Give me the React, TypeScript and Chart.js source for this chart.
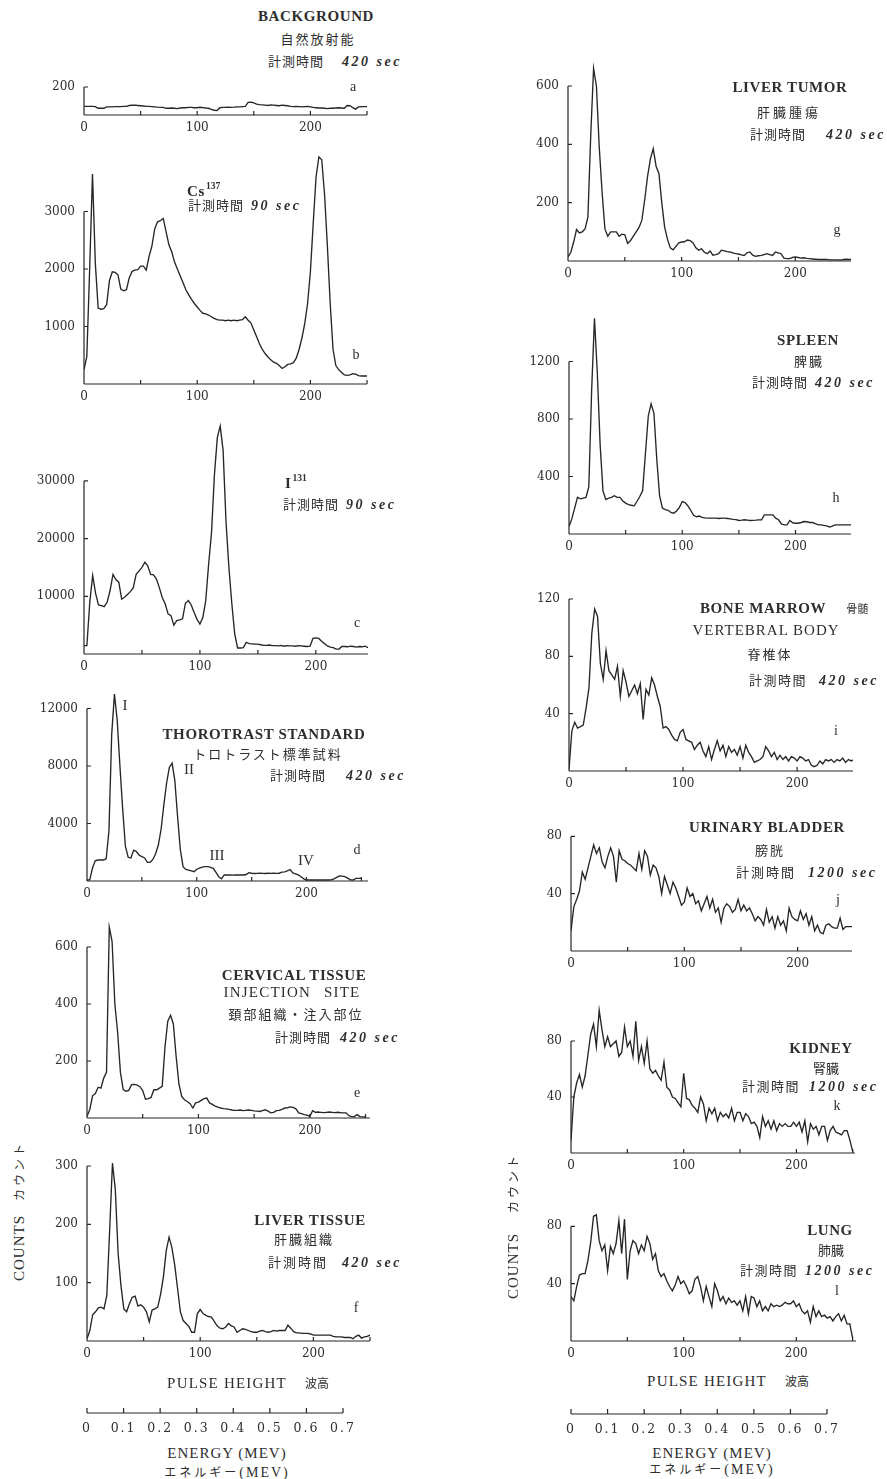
import React, { useEffect, useRef } from 'react';
import { Chart, registerables } from 'chart.js';

Chart.register(...registerables);

// ---------- data ----------
const CHANNELS = [
  0, 2.5, 5, 7.5, 10, 12.5, 15, 17.5, 20, 22.5,
  25, 27.5, 30, 32.5, 35, 37.5, 40, 42.5, 45, 47.5,
  50, 52.5, 55, 57.5, 60, 62.5, 65, 67.5, 70, 72.5,
  75, 77.5, 80, 82.5, 85, 87.5, 90, 92.5, 95, 97.5,
  100, 102.5, 105, 107.5, 110, 112.5, 115, 117.5, 120, 122.5,
  125, 127.5, 130, 132.5, 135, 137.5, 140, 142.5, 145, 147.5,
  150, 152.5, 155, 157.5, 160, 162.5, 165, 167.5, 170, 172.5,
  175, 177.5, 180, 182.5, 185, 187.5, 190, 192.5, 195, 197.5,
  200, 202.5, 205, 207.5, 210, 212.5, 215, 217.5, 220, 222.5,
  225, 227.5, 230, 232.5, 235, 237.5, 240, 242.5, 245, 247.5,
  250,
];

const BACKGROUND_A = [
  62, 62, 62, 62, 60, 48, 48, 48, 58, 58,
  58, 60, 60, 60, 62, 62, 68, 70, 70, 68,
  66, 64, 62, 62, 60, 58, 56, 55, 55, 48,
  48, 50, 48, 46, 50, 52, 52, 55, 55, 52,
  52, 55, 53, 50, 48, 40, 34, 32, 52, 54,
  55, 56, 55, 56, 58, 58, 60, 62, 90, 92,
  86, 78, 74, 72, 70, 68, 72, 70, 68, 66,
  70, 68, 66, 62, 60, 62, 60, 58, 60, 62,
  58, 54, 52, 50, 50, 48, 46, 48, 48, 50,
  52, 50, 48, 68, 66, 52, 42, 58, 60, 60,
  60,
];

const CS137_B = [
  250, 480, 2000, 3650, 2100, 1320, 1300, 1310, 1380, 1800,
  1950, 1940, 1900, 1650, 1620, 1640, 1850, 1960, 1980, 1990,
  2050, 2050, 1980, 2220, 2400, 2700, 2820, 2840, 2880, 2650,
  2420, 2300, 2120, 2000, 1880, 1760, 1640, 1550, 1470, 1400,
  1340, 1280, 1230, 1220, 1200, 1170, 1140, 1120, 1110, 1110,
  1100, 1110, 1100, 1110, 1100, 1110, 1120, 1170, 1110, 1060,
  940, 820, 700, 600, 530, 470, 420, 380, 360, 320,
  270, 300, 340, 350, 370, 450, 600, 800, 1050, 1400,
  1950, 2800, 3600, 3950, 3900, 3300, 2400, 1400, 600, 320,
  250, 200, 160, 150, 160, 180, 170, 145, 140, 140,
  140,
];

const I131_C = [
  1450, 1450, 9000, 13600, 10500, 8500, 8400, 8200, 9000, 11000,
  13800, 12900, 12450, 9500, 9840, 10300, 10800, 11500, 13800, 14400,
  15000, 15900, 15300, 13800, 13700, 13000, 11500, 9800, 8700, 6950,
  6650, 5000, 5800, 5900, 6100, 8800, 9260, 8500, 7200, 6000,
  5200, 6300, 9200, 15500, 21000, 31000, 37500, 39500, 35300, 23000,
  15000, 8800, 3500, 1040, 1040, 1100, 2000, 1800, 1750, 1700,
  1700, 1600, 1500, 1500, 1550, 1450, 1450, 1400, 1500, 1350,
  1450, 1400, 1400, 1350, 1450, 1400, 1350, 1300, 1350, 2700,
  2800, 2700, 2200, 1800, 1400, 1200, 1100, 850, 850, 1300,
  1300, 1250, 1350, 1300, 1200, 1300, 1250, 1350, 1100, 1200,
  1200,
];

const THOROTRAST_D = [
  70, 80, 900, 1400, 1460, 1460, 1460, 1550, 3500, 10200,
  13000, 11200, 8000, 5000, 2400, 1650, 1600, 2150, 2050, 1800,
  1700, 1600, 1300, 1300, 1500, 1900, 2500, 3600, 5300, 6800,
  7900, 8200, 7000, 4500, 2200, 1000, 800, 760, 700, 650,
  820, 900, 960, 1000, 1000, 950, 880, 600, 300, 150,
  420, 420, 420, 410, 420, 430, 420, 420, 450, 580,
  540, 520, 530, 540, 530, 520, 540, 530, 540, 530,
  540, 620, 640, 700, 800, 560, 500, 420, 300, 150,
  70, 70, 70, 70, 70, 70, 70, 70, 70, 80,
  150, 250, 350, 340, 300, 200, 80, 70, 180, 185,
  185,
];

const CERVICAL_E = [
  6, 30, 78, 86, 108, 105, 140, 160, 670, 620,
  400, 300, 160, 100, 94, 97, 117, 118, 115, 110,
  96, 66, 68, 72, 99, 99, 105, 111, 250, 340,
  360, 330, 216, 120, 76, 64, 58, 50, 35, 53,
  56, 62, 68, 70, 53, 48, 42, 38, 35, 33,
  32, 30, 28, 27, 27, 28, 26, 27, 28, 27,
  25, 24, 23, 26, 29, 24, 18, 20, 26, 27,
  30, 35, 36, 39, 37, 32, 18, 15, 12, 10,
  6, 26, 20, 21, 20, 19, 20, 21, 20, 19,
  20, 19, 18, 18, 8, 5, 5, 12, 5, 4,
  4,
];

const LIVER_TISSUE_F = [
  4, 18, 45, 50, 57, 58, 55, 78, 190, 305,
  260, 150, 95, 55, 50, 64, 75, 77, 60, 62,
  58, 50, 33, 53, 55, 58, 80, 110, 155, 178,
  160, 130, 90, 50, 35, 30, 25, 15, 15, 47,
  54, 47, 44, 42, 41, 33, 26, 22, 21, 24,
  30, 26, 24, 15, 18, 21, 20, 18, 16, 15,
  15, 17, 18, 16, 15, 16, 18, 17, 18, 18,
  18, 27, 22, 16, 14, 14, 13, 13, 13, 12,
  10, 10, 10, 10, 10, 10, 10, 8, 7, 7,
  7, 6, 6, 6, 4, 8, 10, 5, 7, 8,
  10,
];

const LIVER_TUMOR_G = [
  14, 30, 65, 108, 96, 100, 110, 150, 430, 660,
  600, 390, 235, 110, 85, 100, 100, 100, 85, 92,
  90, 60, 70, 85, 100, 115, 140, 210, 290, 350,
  385, 325, 300, 200, 117, 75, 45, 38, 50, 62,
  65, 66, 72, 70, 62, 45, 37, 42, 30, 25,
  34, 20, 22, 25, 37, 35, 32, 31, 28, 25,
  24, 21, 19, 28, 31, 20, 16, 18, 19, 22,
  25, 22, 19, 31, 28, 25, 10, 8, 8, 12,
  14, 12, 10, 11, 9, 8, 7, 6, 5, 5,
  5, 5, 4, 4, 4, 4, 3, 5, 6, 5,
  6,
];

const SPLEEN_H = [
  52, 105, 180, 255, 245, 250, 255, 330, 1000, 1500,
  1120, 620, 300, 240, 250, 255, 266, 255, 255, 230,
  215, 205, 200, 196, 226, 261, 300, 560, 820, 905,
  840, 520, 265, 180, 170, 165, 150, 145, 160, 185,
  226, 218, 195, 165, 130, 120, 125, 115, 112, 110,
  110, 110, 110, 108, 110, 110, 108, 105, 102, 100,
  94, 96, 99, 97, 94, 95, 96, 98, 99, 133,
  133, 133, 133, 110, 99, 70, 64, 64, 94, 78,
  75, 75, 80, 87, 85, 80, 80, 72, 64, 64,
  60, 57, 48, 55, 64, 64, 64, 64, 64, 64,
  64,
];

const BONE_MARROW_I = [
  1, 28, 34, 30, 31, 32, 44, 58, 96, 113,
  108, 75, 64, 84, 70, 67, 64, 73, 52, 70,
  62, 52, 56, 60, 54, 61, 36, 57, 53, 65,
  60, 52, 45, 30, 31, 29, 25, 22, 21, 27,
  29, 22, 21, 20, 15, 18, 20, 14, 10, 17,
  8, 15, 21, 14, 18, 10, 17, 13, 15, 11,
  17, 9, 18, 13, 10, 6, 7, 8, 10, 17,
  14, 10, 13, 8, 11, 8, 10, 7, 10, 9,
  7, 10, 9, 7, 8, 4, 3, 4, 7, 5,
  8, 7, 8, 6, 8, 7, 9, 6, 8, 7,
  8,
];

const BLADDER_J = [
  14, 31, 36, 42, 55, 50, 58, 66, 74, 68,
  72, 62, 58, 66, 72, 66, 48, 70, 64, 63,
  61, 60, 58, 56, 68, 57, 70, 66, 53, 60,
  58, 52, 40, 52, 46, 40, 48, 44, 38, 32,
  34, 44, 38, 40, 33, 35, 28, 33, 38, 30,
  36, 27, 30, 20, 30, 33, 31, 27, 29, 36,
  28, 32, 28, 30, 26, 21, 24, 22, 18, 29,
  20, 24, 16, 24, 18, 21, 14, 30, 24, 22,
  21, 28, 22, 26, 18, 24, 14, 18, 13, 12,
  18, 19, 17, 16, 16, 23, 15, 17, 17, 17,
  17,
];

const KIDNEY_K = [
  9, 40, 50, 56, 47, 55, 70, 85, 92, 76,
  102, 88, 76, 83, 76, 78, 80, 69, 72, 90,
  76, 80, 69, 94, 66, 76, 64, 80, 60, 57,
  59, 55, 52, 65, 47, 45, 40, 39, 36, 33,
  57, 39, 38, 34, 32, 29, 40, 35, 23, 32,
  28, 32, 23, 29, 26, 28, 25, 32, 23, 29,
  29, 23, 28, 26, 21, 22, 19, 11, 26, 19,
  23, 17, 23, 16, 21, 19, 21, 19, 19, 22,
  19, 22, 15, 23, 8, 21, 17, 19, 13, 19,
  19, 9, 16, 19, 15, 14, 13, 16, 16, 9,
  1,
];

const LUNG_L = [
  31, 28, 38, 46, 47, 47, 56, 69, 87, 88,
  70, 63, 67, 49, 66, 61, 68, 84, 61, 85,
  43, 63, 70, 68, 61, 67, 63, 73, 68, 57,
  61, 49, 45, 47, 42, 38, 35, 39, 45, 40,
  42, 38, 33, 35, 43, 45, 38, 28, 38, 31,
  24, 40, 35, 28, 31, 26, 30, 27, 28, 25,
  28, 21, 31, 19, 31, 30, 24, 28, 21, 24,
  21, 26, 24, 25, 24, 25, 27, 26, 26, 28,
  24, 26, 21, 19, 21, 13, 24, 17, 21, 17,
  18, 16, 17, 14, 17, 19, 14, 18, 12, 12,
  2,
];

const TICKS_A = [200];
const TICKS_B = [1000, 2000, 3000];
const TICKS_C = [10000, 20000, 30000];
const TICKS_D = [4000, 8000, 12000];
const TICKS_E = [200, 400, 600];
const TICKS_F = [100, 200, 300];
const TICKS_G = [200, 400, 600];
const TICKS_H = [400, 800, 1200];
const TICKS_I = [40, 80, 120];
const TICKS_J = [40, 80];
const TICKS_K = [40, 80];
const TICKS_L = [40, 80];

const PULSE_LABEL_TICKS = [0, 100, 200];
const PULSE_MINOR_TICKS = [50, 100, 150, 200, 250];
const ENERGY_TICKS = [0, 0.1, 0.2, 0.3, 0.4, 0.5, 0.6, 0.7];

// ---------- layout / style ----------
const INK = '#262626';
const TXT = '#2e2e2e';
const SERIF = '"Liberation Serif", "Times New Roman", serif';
const NUMFONT = '"DejaVu Serif", "Liberation Serif", serif';
const JP = '"Noto Sans CJK JP", "Noto Sans CJK SC", sans-serif';
const YAXIS_W = 56;
const XAXIS_H = 24;
const RIGHT_PAD = 4;
const TOP_PAD = 10;

type PanelSpec = {
  key: string; values: number[]; yTicks: number[];
  xL: number; xR: number; xMax: number; yBase: number; ppu: number; top: number;
};

const PANELS: PanelSpec[] = [
  { key: 'a', values: BACKGROUND_A, yTicks: TICKS_A, xL: 84, xR: 367, xMax: 250, yBase: 115, ppu: 0.14, top: 86 },
  { key: 'b', values: CS137_B, yTicks: TICKS_B, xL: 84, xR: 367, xMax: 250, yBase: 384, ppu: 0.0575, top: 148 },
  { key: 'c', values: I131_C, yTicks: TICKS_C, xL: 84, xR: 368, xMax: 245, yBase: 654, ppu: 0.00577, top: 417 },
  { key: 'd', values: THOROTRAST_D, yTicks: TICKS_D, xL: 87, xR: 368, xMax: 256, yBase: 881, ppu: 0.014375, top: 687 },
  { key: 'e', values: CERVICAL_E, yTicks: TICKS_E, xL: 87, xR: 370, xMax: 254, yBase: 1118, ppu: 0.285, top: 918 },
  { key: 'f', values: LIVER_TISSUE_F, yTicks: TICKS_F, xL: 87, xR: 370, xMax: 250, yBase: 1341, ppu: 0.5833, top: 1154 },
  { key: 'g', values: LIVER_TUMOR_G, yTicks: TICKS_G, xL: 568, xR: 851, xMax: 249, yBase: 261, ppu: 0.2917, top: 56 },
  { key: 'h', values: SPLEEN_H, yTicks: TICKS_H, xL: 569, xR: 851, xMax: 249, yBase: 534, ppu: 0.14375, top: 311 },
  { key: 'i', values: BONE_MARROW_I, yTicks: TICKS_I, xL: 569, xR: 853, xMax: 249, yBase: 771, ppu: 1.4333, top: 596 },
  { key: 'j', values: BLADDER_J, yTicks: TICKS_J, xL: 571, xR: 852, xMax: 248, yBase: 951, ppu: 1.4333, top: 833 },
  { key: 'k', values: KIDNEY_K, yTicks: TICKS_K, xL: 571, xR: 855, xMax: 252, yBase: 1153, ppu: 1.4, top: 1005 },
  { key: 'l', values: LUNG_L, yTicks: TICKS_L, xL: 571, xR: 856, xMax: 253, yBase: 1341, ppu: 1.4333, top: 1208 },
];

function makeAxesPlugin(yTicks: number[]) {
  return {
    id: 'paperAxes',
    afterDatasetsDraw(chart: any) {
      const { ctx } = chart;
      const x = chart.scales.x;
      const y = chart.scales.y;
      const x0 = x.getPixelForValue(0);
      const x1 = x.getPixelForValue(x.max);
      const y0 = y.getPixelForValue(0);
      const yTop = y.getPixelForValue(yTicks[yTicks.length - 1]);
      ctx.save();
      ctx.strokeStyle = INK;
      ctx.lineWidth = 1.2;
      ctx.beginPath();
      ctx.moveTo(x0, y0);
      ctx.lineTo(x1, y0);
      ctx.moveTo(x0, y0);
      ctx.lineTo(x0, yTop);
      for (const v of PULSE_MINOR_TICKS) {
        if (v <= x.max + 0.01) {
          const px = x.getPixelForValue(v);
          ctx.moveTo(px, y0);
          ctx.lineTo(px, y0 - 4);
        }
      }
      for (const v of yTicks) {
        const py = y.getPixelForValue(v);
        ctx.moveTo(x0, py);
        ctx.lineTo(x0 + 4, py);
      }
      ctx.stroke();
      ctx.restore();
    },
  };
}

function Spectrum({ p }: { p: PanelSpec }) {
  const ref = useRef<HTMLCanvasElement>(null);
  const left = p.xL - YAXIS_W;
  const width = YAXIS_W + (p.xR - p.xL) + RIGHT_PAD;
  const plotH = p.yBase - p.top;
  const height = TOP_PAD + plotH + XAXIS_H;
  useEffect(() => {
    const yMax = plotH / p.ppu;
    const chart = new Chart(ref.current as HTMLCanvasElement, {
      type: 'line',
      data: {
        datasets: [{
          data: CHANNELS.map((c, i) => ({ x: c, y: p.values[i] })),
          borderColor: INK,
          borderWidth: 1.35,
          pointRadius: 0,
          tension: 0,
          fill: false,
        }],
      },
      options: {
        animation: false,
        responsive: false,
        maintainAspectRatio: false,
        events: [],
        layout: { padding: { left: 0, right: RIGHT_PAD, top: TOP_PAD, bottom: 0 } },
        plugins: { legend: { display: false }, tooltip: { enabled: false }, title: { display: false } },
        scales: {
          x: {
            type: 'linear', min: 0, max: p.xMax,
            grid: { display: false, drawTicks: false },
            border: { display: false },
            ticks: {
              font: { family: NUMFONT, size: 12 }, color: TXT, padding: 6,
              maxRotation: 0, autoSkip: false,
              callback: (v: any) => String(v),
            },
            afterBuildTicks: (ax: any) => { ax.ticks = PULSE_LABEL_TICKS.map((v) => ({ value: v })); },
            afterFit: (ax: any) => { ax.height = XAXIS_H; ax.paddingLeft = 0; ax.paddingRight = 0; },
          },
          y: {
            type: 'linear', min: 0, max: yMax,
            grid: { display: false, drawTicks: false },
            border: { display: false },
            ticks: {
              font: { family: NUMFONT, size: 12 }, color: TXT, padding: 9, autoSkip: false,
              callback: (v: any) => String(v),
            },
            afterBuildTicks: (ax: any) => { ax.ticks = p.yTicks.map((v) => ({ value: v })); },
            afterFit: (ax: any) => { ax.width = YAXIS_W; ax.paddingTop = 0; ax.paddingBottom = 0; },
          },
        },
      } as any,
      plugins: [makeAxesPlugin(p.yTicks)],
    });
    return () => chart.destroy();
  }, []);
  return (
    <canvas ref={ref} width={width} height={height}
      style={{ position: 'absolute', left, top: p.top - TOP_PAD, width, height }} />
  );
}

const energyPlugin = {
  id: 'energyAxis',
  beforeDraw(chart: any) { chart.ctx.letterSpacing = '2px'; },
  afterDraw(chart: any) {
    const { ctx } = chart;
    ctx.letterSpacing = '0px';
    const x = chart.scales.x;
    const yb = chart.chartArea.bottom;
    ctx.save();
    ctx.strokeStyle = INK;
    ctx.lineWidth = 1.2;
    ctx.beginPath();
    ctx.moveTo(x.getPixelForValue(0), yb);
    ctx.lineTo(x.getPixelForValue(0.7), yb);
    for (const v of ENERGY_TICKS) {
      const px = x.getPixelForValue(v);
      ctx.moveTo(px, yb);
      ctx.lineTo(px, yb - 5);
    }
    ctx.stroke();
    ctx.restore();
  },
};

function EnergyAxis({ x0, x1, y }: { x0: number; x1: number; y: number }) {
  const ref = useRef<HTMLCanvasElement>(null);
  const PAD = 24, TOPH = 8, AXH = 30;
  const left = x0 - PAD;
  const width = x1 - x0 + 2 * PAD;
  const top = y - TOPH;
  const height = TOPH + AXH;
  useEffect(() => {
    const chart = new Chart(ref.current as HTMLCanvasElement, {
      type: 'line',
      data: { datasets: [] },
      options: {
        animation: false, responsive: false, maintainAspectRatio: false, events: [],
        layout: { padding: { left: PAD, right: PAD, top: 0, bottom: 0 } },
        plugins: { legend: { display: false }, tooltip: { enabled: false } },
        scales: {
          x: {
            type: 'linear', min: 0, max: 0.7,
            grid: { display: false, drawTicks: false },
            border: { display: false },
            ticks: {
              font: { family: NUMFONT, size: 12.5 }, color: TXT, padding: 8,
              maxRotation: 0, autoSkip: false,
              callback: (v: any) => (Number(v) === 0 ? '0' : Number(v).toFixed(1)),
            },
            afterBuildTicks: (ax: any) => { ax.ticks = ENERGY_TICKS.map((v) => ({ value: v })); },
            afterFit: (ax: any) => { ax.height = AXH; ax.paddingLeft = 0; ax.paddingRight = 0; },
          },
          y: { display: false, min: 0, max: 1 },
        },
      } as any,
      plugins: [energyPlugin],
    });
    return () => chart.destroy();
  }, []);
  return (
    <canvas ref={ref} width={width} height={height}
      style={{ position: 'absolute', left, top, width, height }} />
  );
}

// ---------- text helpers ----------
function Txt({ x, y, align = 'center', style, children }: any) {
  return (
    <div style={{
      position: 'absolute', left: x, top: y,
      transform: align === 'center' ? 'translate(-50%,-50%)' : 'translate(0,-50%)',
      whiteSpace: 'nowrap', lineHeight: 1, color: TXT, ...style,
    }}>{children}</div>
  );
}

const titleStyle = { fontFamily: SERIF, fontWeight: 700, fontSize: 15, letterSpacing: '0.6px' };
const plainStyle = { fontFamily: SERIF, fontSize: 15, letterSpacing: '1.2px' };
const jpStyle = { fontFamily: JP, fontSize: 13, letterSpacing: '2px' };
const letterStyle = { fontFamily: SERIF, fontSize: 14 };
const romanStyle = { fontFamily: SERIF, fontSize: 15 };

function Measure({ x, y, t, gap, sp = 1 }: any) {
  return (
    <Txt x={x} y={y} align="left">
      <span style={{ fontFamily: JP, fontSize: 13, letterSpacing: sp + 'px' }}>計測時間</span>
      <span style={{ marginLeft: gap, fontFamily: SERIF, fontStyle: 'italic', fontWeight: 700, fontSize: 14, letterSpacing: '2.5px' }}>{t}</span>
    </Txt>
  );
}

function Counts({ x, y, gap }: any) {
  return (
    <div style={{
      position: 'absolute', left: x, top: y, transform: 'translate(-50%,-50%) rotate(-90deg)',
      whiteSpace: 'nowrap', lineHeight: 1, color: TXT,
    }}>
      <span style={{ fontFamily: SERIF, fontSize: 15, letterSpacing: '1px' }}>COUNTS</span>
      <span style={{ fontFamily: JP, fontSize: 12, letterSpacing: '3px', marginLeft: gap }}>カウント</span>
    </div>
  );
}

function PulseLabel({ x, y }: any) {
  return (
    <Txt x={x} y={y}>
      <span style={plainStyle}>PULSE HEIGHT</span>
      <span style={{ fontFamily: JP, fontSize: 12, marginLeft: 18 }}>波高</span>
    </Txt>
  );
}

function EnergyLabels({ x, y1, y2 }: any) {
  return (
    <>
      <Txt x={x} y={y1} style={{ fontFamily: SERIF, fontSize: 15, letterSpacing: '1px' }}>ENERGY (MEV)</Txt>
      <Txt x={x} y={y2}>
        <span style={{ fontFamily: JP, fontSize: 12, letterSpacing: '3px' }}>エネルギー</span>
        <span style={{ fontFamily: SERIF, fontSize: 14, letterSpacing: '2px' }}>(MEV)</span>
      </Txt>
    </>
  );
}

export default function App() {
  return (
    <div style={{ position: 'absolute', left: 0, top: 0, width: 887, height: 1479, background: '#ffffff', overflow: 'hidden' }}>
      {PANELS.map((p) => <Spectrum key={p.key} p={p} />)}
      <EnergyAxis x0={87} x1={343} y={1413} />
      <EnergyAxis x0={571} x1={827} y={1414} />

      {/* a */}
      <Txt x={316} y={16} style={titleStyle}>BACKGROUND</Txt>
      <Txt x={318} y={38} style={jpStyle}>自然放射能</Txt>
      <Measure x={268} y={61} t="420 sec" gap={18} />
      <Txt x={353} y={87} style={letterStyle}>a</Txt>

      {/* b */}
      <Txt x={187} y={191} align="left" style={titleStyle}>
        Cs<span style={{ fontSize: 9.5, position: 'relative', top: -7, marginLeft: 1, letterSpacing: 0 }}>137</span>
      </Txt>
      <Measure x={188} y={205} t="90 sec" gap={7} />
      <Txt x={356} y={355} style={letterStyle}>b</Txt>

      {/* c */}
      <Txt x={285} y={483} align="left" style={titleStyle}>
        I<span style={{ fontSize: 9.5, position: 'relative', top: -7, marginLeft: 1, letterSpacing: 0 }}>131</span>
      </Txt>
      <Measure x={283} y={504} t="90 sec" gap={7} />
      <Txt x={357} y={623} style={letterStyle}>c</Txt>

      {/* d */}
      <Txt x={125} y={705} style={romanStyle}>I</Txt>
      <Txt x={264} y={734} style={titleStyle}>THOROTRAST STANDARD</Txt>
      <Txt x={268} y={753} style={jpStyle}>トロトラスト標準試料</Txt>
      <Measure x={270} y={775} t="420 sec" gap={20} />
      <Txt x={189} y={769} style={romanStyle}>II</Txt>
      <Txt x={217} y={855} style={romanStyle}>III</Txt>
      <Txt x={306} y={860} style={romanStyle}>IV</Txt>
      <Txt x={357} y={850} style={letterStyle}>d</Txt>

      {/* e */}
      <Txt x={294} y={975} style={titleStyle}>CERVICAL TISSUE</Txt>
      <Txt x={292} y={992} style={{ ...plainStyle, wordSpacing: '8px' }}>INJECTION SITE</Txt>
      <Txt x={296} y={1013} style={jpStyle}>頚部組織・注入部位</Txt>
      <Measure x={275} y={1037} t="420 sec" gap={9} />
      <Txt x={357} y={1093} style={letterStyle}>e</Txt>

      {/* f */}
      <Txt x={310} y={1220} style={titleStyle}>LIVER TISSUE</Txt>
      <Txt x={304} y={1238} style={jpStyle}>肝臓組織</Txt>
      <Measure x={268} y={1262} t="420 sec" gap={14} sp={2} />
      <Txt x={356} y={1308} style={letterStyle}>f</Txt>

      <Counts x={19} y={1211} gap={14} />
      <PulseLabel x={248} y={1383} />
      <EnergyLabels x={227} y1={1453} y2={1472} />

      {/* g */}
      <Txt x={790} y={87} style={titleStyle}>LIVER TUMOR</Txt>
      <Txt x={789} y={111} style={{ ...jpStyle, letterSpacing: '3px' }}>肝臓腫瘍</Txt>
      <Measure x={750} y={134} t="420 sec" gap={20} />
      <Txt x={837} y={230} style={letterStyle}>g</Txt>

      {/* h */}
      <Txt x={808} y={340} style={titleStyle}>SPLEEN</Txt>
      <Txt x={809} y={360} style={jpStyle}>脾臓</Txt>
      <Measure x={752} y={382} t="420 sec" gap={7} />
      <Txt x={836} y={498} style={letterStyle}>h</Txt>

      {/* i */}
      <Txt x={700} y={608} align="left" style={titleStyle}>
        BONE MARROW<span style={{ fontFamily: JP, fontWeight: 400, fontSize: 11, marginLeft: 20, letterSpacing: 0 }}>骨髄</span>
      </Txt>
      <Txt x={766} y={630} style={{ ...plainStyle, letterSpacing: '1px' }}>VERTEBRAL BODY</Txt>
      <Txt x={770} y={653} style={jpStyle}>脊椎体</Txt>
      <Measure x={749} y={680} t="420 sec" gap={12} sp={1.5} />
      <Txt x={836} y={731} style={letterStyle}>i</Txt>

      {/* j */}
      <Txt x={767} y={827} style={titleStyle}>URINARY BLADDER</Txt>
      <Txt x={770} y={849} style={jpStyle}>膀胱</Txt>
      <Measure x={736} y={872} t="1200 sec" gap={12} sp={2} />
      <Txt x={838} y={900} style={letterStyle}>j</Txt>

      {/* k */}
      <Txt x={821} y={1048} style={titleStyle}>KIDNEY</Txt>
      <Txt x={826} y={1067} style={{ ...jpStyle, letterSpacing: '0px' }}>腎臓</Txt>
      <Measure x={742} y={1086} t="1200 sec" gap={9} sp={1.5} />
      <Txt x={837} y={1106} style={letterStyle}>k</Txt>

      {/* l */}
      <Txt x={830} y={1230} style={titleStyle}>LUNG</Txt>
      <Txt x={831} y={1249} style={{ ...jpStyle, letterSpacing: '0px' }}>肺臓</Txt>
      <Measure x={740} y={1270} t="1200 sec" gap={7} sp={1.5} />
      <Txt x={837} y={1291} style={letterStyle}>l</Txt>

      <Counts x={513} y={1226} gap={20} />
      <PulseLabel x={728} y={1381} />
      <EnergyLabels x={712} y1={1453} y2={1469} />
    </div>
  );
}
